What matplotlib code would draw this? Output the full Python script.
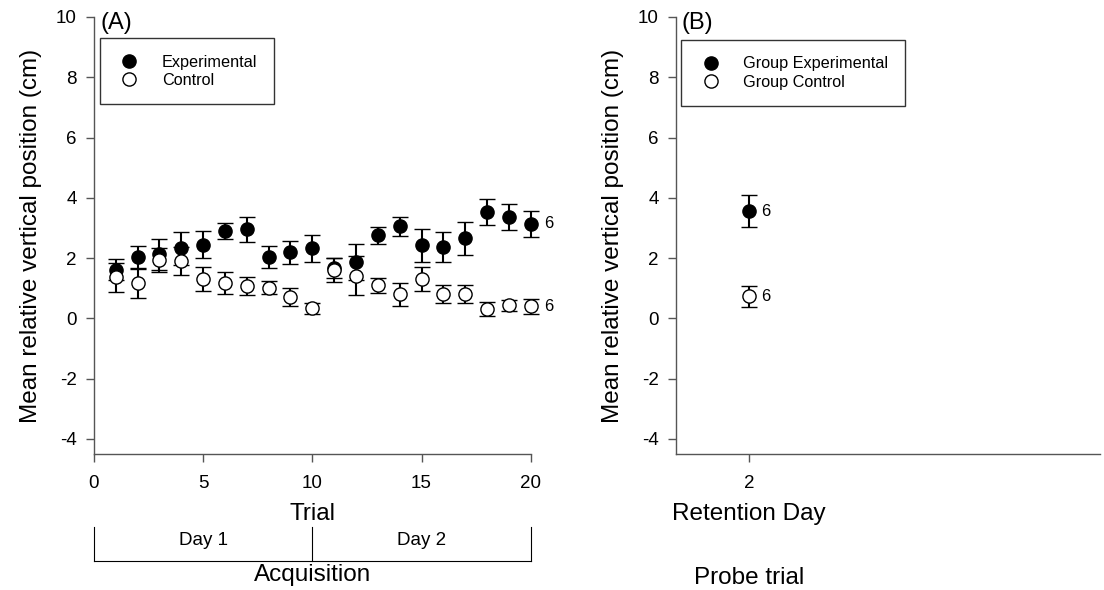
import numpy as np
import matplotlib
matplotlib.use("Agg")
import matplotlib.pyplot as plt
from matplotlib.lines import Line2D
from matplotlib.transforms import blended_transform_factory

plt.rcParams['font.family'] = ['Liberation Sans', 'DejaVu Sans']
plt.rcParams['axes.unicode_minus'] = False

# Acquisition: 20 trials over two days
trials = np.arange(1, 21)
exp_mean = [1.62, 2.03, 2.12, 2.33, 2.45, 2.90, 2.95, 2.04, 2.20, 2.32,
            1.68, 1.87, 2.75, 3.05, 2.42, 2.36, 2.66, 3.52, 3.37, 3.14]
exp_sem = [0.35, 0.38, 0.50, 0.55, 0.45, 0.27, 0.40, 0.36, 0.38, 0.44,
           0.33, 0.60, 0.28, 0.33, 0.54, 0.50, 0.55, 0.43, 0.44, 0.43]
ctl_mean = [1.36, 1.17, 1.95, 1.90, 1.30, 1.18, 1.07, 1.02, 0.70, 0.33,
            1.60, 1.42, 1.10, 0.80, 1.31, 0.80, 0.80, 0.30, 0.43, 0.40]
ctl_sem = [0.48, 0.50, 0.40, 0.47, 0.40, 0.36, 0.31, 0.22, 0.30, 0.17,
           0.40, 0.65, 0.25, 0.39, 0.40, 0.30, 0.30, 0.23, 0.18, 0.25]

# Retention (probe trial)
ret_day = [2]
ret_exp_mean, ret_exp_sem = [3.55], [0.53]
ret_ctl_mean, ret_ctl_sem = [0.73], [0.36]
n_group = 6

day_edges = [0, 10, 20]
day_labels = ["Day 1", "Day 2"]

fig = plt.figure(figsize=(11.04, 5.9), dpi=100)
axA = fig.add_axes([0.0851, 0.2305, 0.3956, 0.7407])
axB = fig.add_axes([0.6123, 0.2305, 0.3841, 0.7407])

mk = dict(marker='o', markersize=9.5, linestyle='none', capsize=5.5,
          elinewidth=1.5, capthick=1.5, ecolor='black', clip_on=False,
          markeredgecolor='black', markeredgewidth=1.0)


def style_axes(ax):
    for s in ['top', 'right']:
        ax.spines[s].set_visible(False)
    for s in ['left', 'bottom']:
        ax.spines[s].set_color('#555555')
        ax.spines[s].set_linewidth(1.0)
    ax.set_ylim(-4.5, 10)
    ax.set_yticks(np.arange(-4, 11, 2))
    ax.tick_params(direction='out', length=5.5, width=1, color='#555555',
                   labelsize=13.5)
    ax.tick_params(axis='y', pad=7)
    ax.tick_params(axis='x', pad=9.5)
    ax.set_ylabel("Mean relative vertical position (cm)", fontsize=17.5,
                  labelpad=10)


def add_legend(ax, labels, anchor):
    handles = [Line2D([], [], marker='o', linestyle='none', markersize=9.5,
                      markerfacecolor=c, markeredgecolor='black')
               for c in ['black', 'white']]
    leg = ax.legend(handles, labels, loc='upper left', bbox_to_anchor=anchor,
                    fontsize=11.7, frameon=True, fancybox=False, borderpad=1.0,
                    handletextpad=1.2, labelspacing=0.2, borderaxespad=0,
                    handlelength=1.6)
    leg.get_frame().set_edgecolor('black')
    leg.get_frame().set_linewidth(1.0)
    return leg


# Panel A
axA.errorbar(trials, exp_mean, yerr=exp_sem, markerfacecolor='black', **mk)
axA.errorbar(trials, ctl_mean, yerr=ctl_sem, markerfacecolor='white', **mk)
axA.set_xlim(0, 20)
axA.set_xticks([0, 5, 10, 15, 20])
style_axes(axA)
axA.set_xlabel("Trial", fontsize=17.5)
axA.xaxis.set_label_coords(0.5, -0.112)
for m in [exp_mean[-1], ctl_mean[-1]]:
    axA.annotate(str(n_group), (trials[-1], m), xytext=(10, 0),
                 textcoords='offset points', va='center', fontsize=12)
axA.text(0.014, 0.986, "(A)", transform=axA.transAxes, ha='left', va='center',
         fontsize=17)
add_legend(axA, ["Experimental", "Control"], (0.014, 0.951))

# Day brackets under panel A
tr = blended_transform_factory(axA.transData, fig.transFigure)
axA.plot([day_edges[0], day_edges[-1]], [0.0492, 0.0492], color='black', lw=0.8,
         transform=tr, clip_on=False)
for xe in day_edges:
    axA.plot([xe, xe], [0.0492, 0.1068], color='black', lw=0.8, transform=tr,
             clip_on=False)
for i, lab in enumerate(day_labels):
    axA.text((day_edges[i] + day_edges[i + 1]) / 2, 0.0835, lab, transform=tr,
             ha='center', va='center', fontsize=13.5)
axA.text(day_edges[1], 0.0254, "Acquisition", transform=tr, ha='center',
         va='center', fontsize=17.5)

# Panel B
axB.errorbar(ret_day, ret_exp_mean, yerr=ret_exp_sem, markerfacecolor='black', **mk)
axB.errorbar(ret_day, ret_ctl_mean, yerr=ret_ctl_sem, markerfacecolor='white', **mk)
axB.set_xlim(1.5, 4.4)
axB.set_xticks(ret_day)
style_axes(axB)
axB.set_xlabel("Retention Day", fontsize=17.5)
axB.xaxis.set_label_coords((ret_day[0] - 1.5) / 2.9, -0.112)
for m in [ret_exp_mean[0], ret_ctl_mean[0]]:
    axB.annotate(str(n_group), (ret_day[0], m), xytext=(8.5, 0),
                 textcoords='offset points', va='center', fontsize=12)
axB.text(0.013, 0.986, "(B)", transform=axB.transAxes, ha='left', va='center',
         fontsize=17)
add_legend(axB, ["Group Experimental", "Group Control"], (0.013, 0.947))

trB = blended_transform_factory(axB.transData, fig.transFigure)
axB.text(ret_day[0], 0.0203, "Probe trial", transform=trB, ha='center',
         va='center', fontsize=17.5)

fig.savefig("out.png", dpi=100)
